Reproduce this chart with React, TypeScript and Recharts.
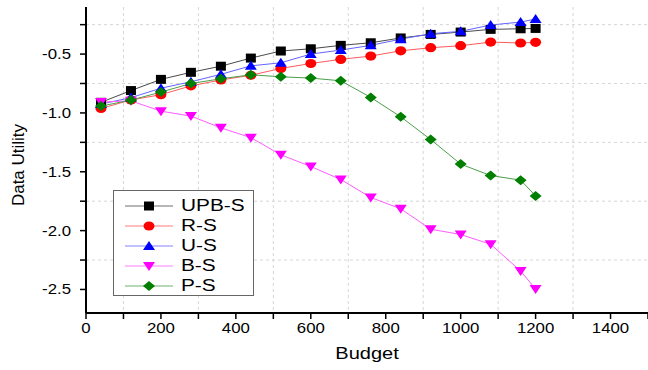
import React from 'react';
import { LineChart, Line, XAxis, YAxis, CartesianGrid, Legend, Label } from 'recharts';

// budgets on the x axis
const budgets = [40, 120, 200, 280, 360, 440, 520, 600, 680, 760, 840, 920, 1000, 1080, 1160, 1200];

// data utility per method
const upbS = [-0.91, -0.81, -0.715, -0.655, -0.603, -0.534, -0.474, -0.455, -0.426, -0.404, -0.363, -0.333, -0.313, -0.29, -0.285, -0.282];
const rS = [-0.962, -0.89, -0.845, -0.77, -0.72, -0.68, -0.622, -0.58, -0.545, -0.517, -0.472, -0.446, -0.429, -0.398, -0.406, -0.4];
const uS = [-0.925, -0.87, -0.79, -0.735, -0.672, -0.6, -0.574, -0.5, -0.466, -0.426, -0.373, -0.327, -0.307, -0.253, -0.228, -0.202];
const bS = [-0.908, -0.897, -0.985, -1.027, -1.127, -1.21, -1.356, -1.455, -1.566, -1.718, -1.815, -1.988, -2.033, -2.116, -2.343, -2.496];
const pS = [-0.942, -0.891, -0.823, -0.75, -0.71, -0.676, -0.693, -0.704, -0.727, -0.868, -1.033, -1.226, -1.435, -1.532, -1.571, -1.705];

const xTicks = [0, 100, 200, 300, 400, 500, 600, 700, 800, 900, 1000, 1100, 1200, 1300, 1400, 1500];
const yTicks = [-2.5, -2.25, -2, -1.75, -1.5, -1.25, -1, -0.75, -0.5, -0.25];
const xGrid = [100, 300, 500, 700, 900, 1100, 1300];
const yGrid = [-2.25, -1.75, -1.25, -0.75, -0.25];

const series = [
  { key: 'upbS', name: 'UPB-S', line: '#4a4a4a', fill: '#000000', shape: 'square' },
  { key: 'rS', name: 'R-S', line: '#ff5a5a', fill: '#ff0000', shape: 'circle' },
  { key: 'uS', name: 'U-S', line: '#6464ff', fill: '#0000ff', shape: 'triangle' },
  { key: 'bS', name: 'B-S', line: '#ff5cff', fill: '#ff00ff', shape: 'down' },
  { key: 'pS', name: 'P-S', line: '#4c9f4c', fill: '#007f00', shape: 'diamond' },
];

const data = budgets.map((b, i) => ({
  budget: b,
  upbS: upbS[i],
  rS: rS[i],
  uS: uS[i],
  bS: bS[i],
  pS: pS[i],
}));

const FONT = '"Liberation Sans", Arial, sans-serif';

const Marker = ({ shape, cx, cy, fill }: any) => {
  if (cx == null || cy == null) return null;
  switch (shape) {
    case 'square':
      return <rect x={cx - 5} y={cy - 4.5} width={10} height={9} fill={fill} />;
    case 'circle':
      return <ellipse cx={cx} cy={cy} rx={5.5} ry={4.6} fill={fill} />;
    case 'triangle':
      return <polygon points={`${cx},${cy - 5} ${cx + 6},${cy + 4} ${cx - 6},${cy + 4}`} fill={fill} />;
    case 'down':
      return <polygon points={`${cx - 6},${cy - 4} ${cx + 6},${cy - 4} ${cx},${cy + 5}`} fill={fill} />;
    default:
      return <polygon points={`${cx},${cy - 5} ${cx + 6},${cy} ${cx},${cy + 5} ${cx - 6},${cy}`} fill={fill} />;
  }
};

const XTick = ({ x, y, payload }: any) => {
  const v = payload.value;
  if (v % 200 !== 0 || v > 1400) return null;
  return (
    <text transform={`translate(${x},${y}) scale(1.2,1)`} textAnchor="middle" dy="0.71em"
      fontSize={14} fontFamily={FONT} fill="#000">
      {v}
    </text>
  );
};

const YTick = ({ x, y, payload }: any) => {
  const v = payload.value;
  if (Math.abs(v * 2 - Math.round(v * 2)) > 1e-6) return null;
  return (
    <text transform={`translate(${x},${y}) scale(1.2,1)`} textAnchor="end" dominantBaseline="central"
      fontSize={14} fontFamily={FONT} fill="#000">
      {v.toFixed(1)}
    </text>
  );
};

const renderLegend = () => (
  <div style={{
    boxSizing: 'border-box', width: 141, height: 106, border: '1px solid #666',
    background: '#fff', paddingTop: 5,
  }}>
    {series.map((s) => (
      <div key={s.key} style={{ position: 'relative', height: 20 }}>
        <svg width={60} height={20} style={{ position: 'absolute', left: 11, top: 0 }}>
          <line x1={0} y1={10} x2={48} y2={10} stroke={s.line} strokeOpacity={0.8} strokeWidth={1} />
          <Marker shape={s.shape} cx={24} cy={10} fill={s.fill} />
        </svg>
        <span style={{
          position: 'absolute', left: 67, top: 1, fontSize: 16, fontFamily: FONT, lineHeight: '18px',
          transform: 'scale(1.3,1)', transformOrigin: 'left center', color: '#000',
        }}>
          {s.name}
        </span>
      </div>
    ))}
  </div>
);

export default function App() {
  return (
    <div style={{ position: 'absolute', left: 0, top: 0, width: 648, height: 370, background: '#fff' }}>
      <LineChart width={648} height={370} data={data} margin={{ top: 7, right: 0, bottom: 0, left: 0 }}>
        <CartesianGrid stroke="#d6d6d6" strokeDasharray="3 3"
          horizontalValues={yGrid} verticalValues={xGrid} />
        <XAxis dataKey="budget" type="number" domain={[0, 1500]} ticks={xTicks} interval={0}
          height={57} tickSize={6} tickMargin={4} tick={<XTick />}
          axisLine={{ stroke: '#000', strokeWidth: 2 }} tickLine={{ stroke: '#000', strokeWidth: 1.5 }}>
          <Label content={(p: any) => {
            const vb = p.viewBox || { x: 86, y: 313, width: 562 };
            const cx = vb.x + vb.width / 2;
            const cy = vb.y + 46;
            return (
              <text transform={`translate(${cx},${cy}) scale(1.25,1)`} textAnchor="middle"
                fontSize={16} fontFamily={FONT} fill="#000">Budget</text>
            );
          }} />
        </XAxis>
        <YAxis type="number" domain={[-2.7, -0.1]} ticks={yTicks} interval={0} width={86}
          tickSize={6} tickMargin={9} tick={<YTick />} allowDataOverflow
          axisLine={{ stroke: '#000', strokeWidth: 2 }} tickLine={{ stroke: '#000', strokeWidth: 1.5 }}>
          <Label content={(p: any) => {
            const vb = p.viewBox || { x: 0, y: 7, height: 306 };
            const cx = 18;
            const cy = vb.y + vb.height / 2 + 5;
            return (
              <text transform={`translate(${cx},${cy}) rotate(-90)`} textAnchor="middle" dominantBaseline="central"
                fontSize={17} fontFamily={FONT} fill="#000">Data Utility</text>
            );
          }} />
        </YAxis>
        <Legend layout="vertical" align="center" verticalAlign="middle" content={renderLegend}
          wrapperStyle={{ left: 113, top: 190, width: 141, height: 106 }} />
        {series.map((s) => (
          <Line key={s.key} type="linear" dataKey={s.key} name={s.name} stroke={s.line} strokeWidth={1}
            isAnimationActive={false}
            dot={(p: any) => <Marker key={`${s.key}-${p.index}`} shape={s.shape} cx={p.cx} cy={p.cy} fill={s.fill} />}
            activeDot={false} />
        ))}
      </LineChart>
    </div>
  );
}
